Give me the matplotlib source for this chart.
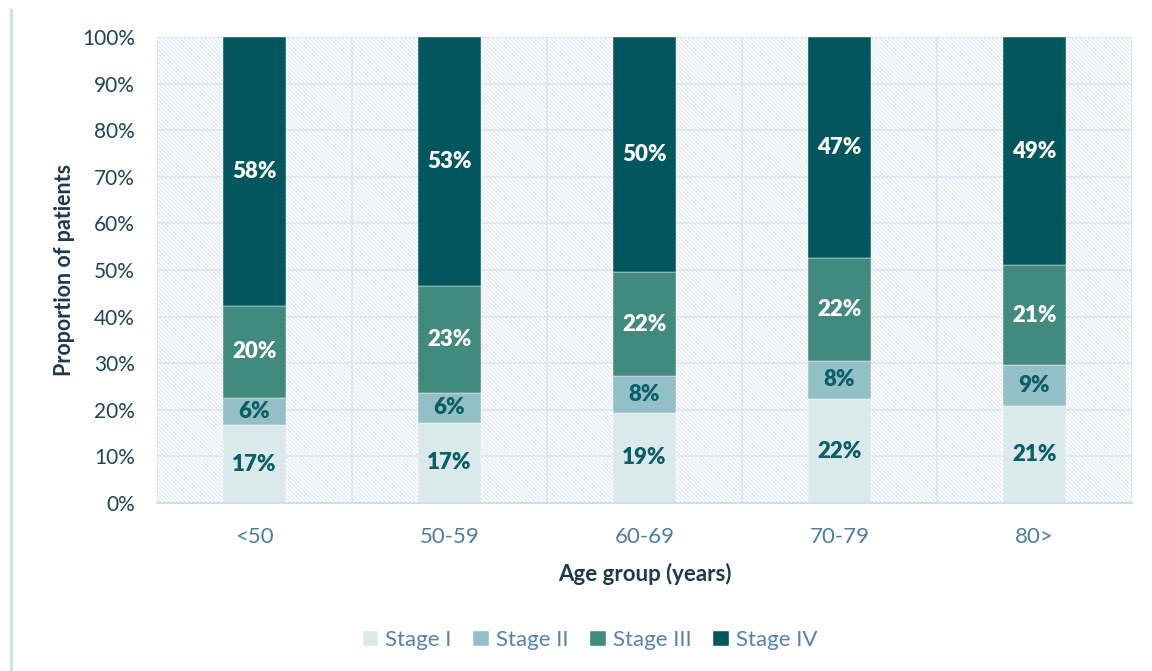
import numpy as np
import matplotlib.pyplot as plt
from matplotlib.patches import Rectangle
from matplotlib.lines import Line2D

plt.rcParams['font.family'] = ['Lato', 'DejaVu Sans']
plt.rcParams['hatch.linewidth'] = 0.7

# data (percent of patients per age group)
age_groups = ["<50", "50-59", "60-69", "70-79", "80>"]
stage_names = ["Stage I", "Stage II", "Stage III", "Stage IV"]
stage_1 = [16.7, 17.2, 19.4, 22.3, 20.8]
stage_2 = [5.8, 6.4, 7.8, 8.2, 8.8]
stage_3 = [19.8, 23.0, 22.3, 22.1, 21.4]
stage_4 = [57.7, 53.4, 50.5, 47.4, 49.0]

colors = ["#DAE9EC", "#93BFC6", "#42897E", "#02575F"]
label_colors = ["#0B5E66", "#0B5E66", "white", "white"]

fig = plt.figure(figsize=(11.52, 6.71), dpi=100)
ax = fig.add_axes([0.1363, 0.2504, 0.8463, 0.6945])

# hatched background of the plot area
ax.add_patch(Rectangle((0, 0), 1, 1, transform=ax.transAxes, facecolor='white',
                       edgecolor='#D9E4EF', hatch='\\' * 8, lw=0, zorder=0))

x = np.arange(len(age_groups))
bottom = np.zeros(len(age_groups))
for vals, name, col, lc in zip([stage_1, stage_2, stage_3, stage_4], stage_names, colors, label_colors):
    vals = np.array(vals)
    ax.bar(x, vals, 0.32, bottom=bottom, color=col, label=name, zorder=3,
           edgecolor='white', linewidth=0.3)
    for xi, b, v in zip(x, bottom, vals):
        ax.text(xi, b + v / 2, f"{v:.0f}%", ha='center', va='center', color=lc,
                fontsize=16, fontweight='heavy', zorder=4)
    bottom += vals

ax.set_xlim(-0.5, 4.5)
ax.set_ylim(0, 100)
ax.set_yticks(np.arange(0, 101, 10))
ax.set_yticklabels([f"{t}%" for t in range(0, 101, 10)])
ax.set_xticks(x)
ax.set_xticklabels(age_groups)
ax.set_xticks(np.arange(-0.5, 5, 1), minor=True)

ax.grid(axis='y', which='major', color='#DCE6F0', lw=1.2, zorder=1)
ax.grid(axis='x', which='minor', color='#DCE6F0', lw=1.2, zorder=1)
ax.set_axisbelow(True)

for s in ['top', 'right', 'left']:
    ax.spines[s].set_visible(False)
ax.spines['bottom'].set_color('#D0DDEA')
ax.spines['bottom'].set_linewidth(1.5)
ax.spines['bottom'].set_zorder(5)

ax.tick_params(axis='both', which='both', length=0)
ax.tick_params(axis='y', labelsize=15, labelcolor='#1F4452', pad=16)
ax.tick_params(axis='x', labelsize=16, labelcolor='#4E7BA0', pad=17)

ax.set_xlabel("Age group (years)", fontsize=16, fontweight='bold', color='#1D3A4A', labelpad=12)
ax.set_ylabel("Proportion of patients", fontsize=15.5, fontweight='bold', color='#1D3A4A', labelpad=5)

fig.legend(loc='center', bbox_to_anchor=(0.512, 0.046), ncol=4, frameon=False,
           fontsize=16, labelcolor='#5A82A8', handlelength=0.7, handleheight=0.7,
           handletextpad=0.3, columnspacing=1.0)

# thin decorative line on the left
fig.add_artist(Line2D([11 / 1152, 11 / 1152], [0, 661 / 671], color='#D5E1EC', lw=2.5))

fig.savefig("out.png", dpi=100)
